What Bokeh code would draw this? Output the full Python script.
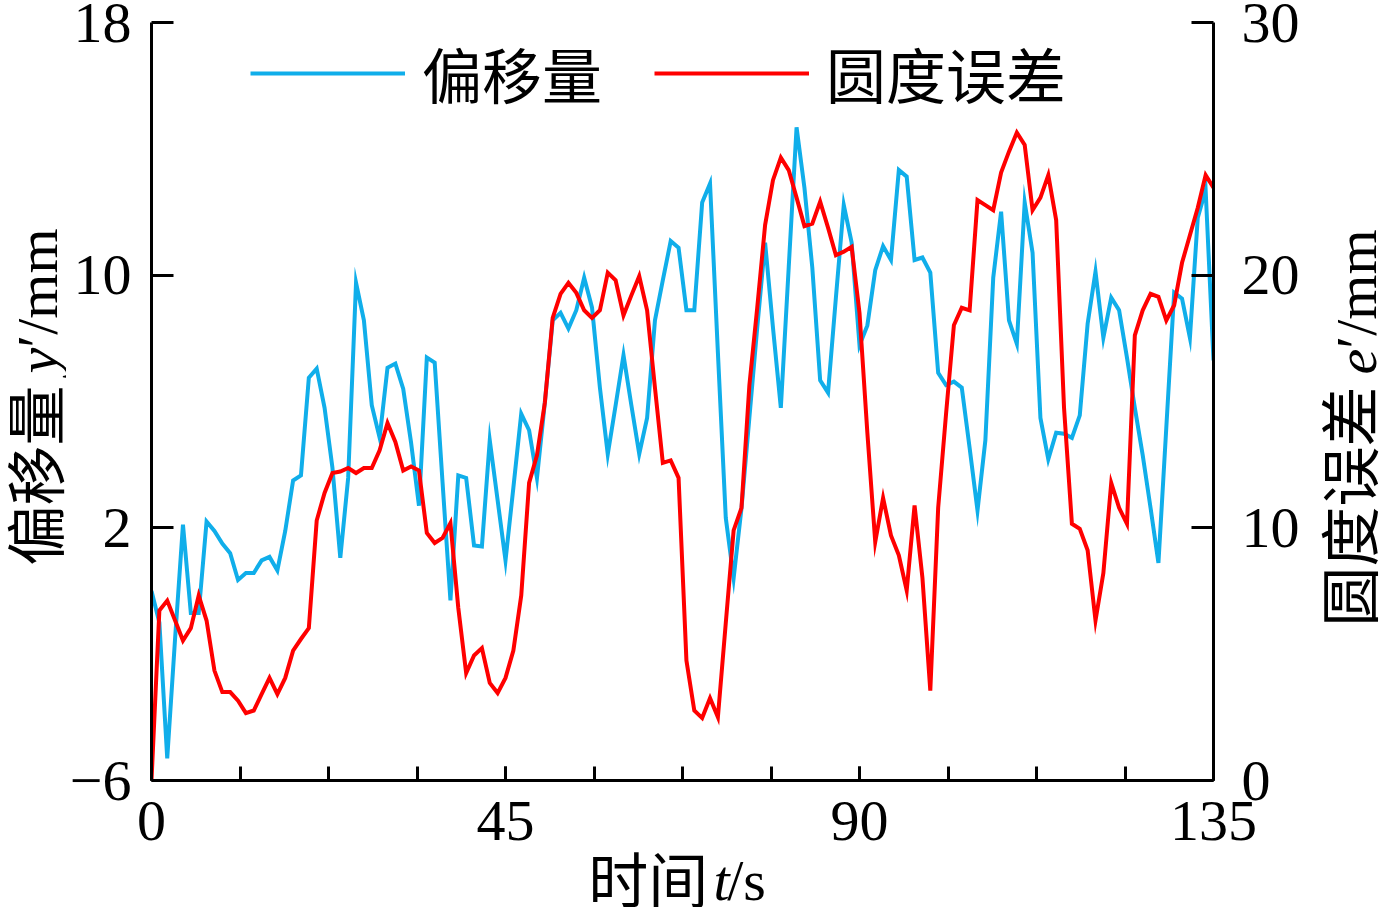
import math
from bokeh.plotting import figure
from bokeh.layouts import row, column
from bokeh.models import (Range1d, LinearAxis, FixedTicker, Legend,
                          LegendItem)
from bokeh.core.properties import value
from bokeh.embed import file_html
from bokeh.resources import INLINE

# ---------------- data ----------------
time_s = list(range(0, 136))

offset_y = [
    0.0, -1.0, -5.3, -1.5, 2.1, -0.7, -0.7, 2.2, 1.9, 1.5,
    1.2, 0.35, 0.57, 0.57, 0.97, 1.08, 0.65, 1.9, 3.5, 3.66,
    6.75, 7.04, 5.8, 3.9, 1.05, 3.58, 9.76, 8.57, 5.88, 4.85,
    7.07, 7.2, 6.4, 4.69, 2.7, 7.39, 7.23, 3.43, -0.3, 3.66,
    3.58, 1.44, 1.41, 4.77, 2.87, 0.97, 3.27, 5.61, 5.09, 3.58,
    5.96, 8.57, 8.81, 8.31, 8.89, 9.92, 8.97, 6.44, 4.33, 5.88,
    7.47, 5.88, 4.34, 5.48, 8.57, 9.84, 11.08, 10.87, 8.89, 8.89,
    12.3, 12.9, 7.55, 2.32, 0.41, 2.63, 5.48, 8.34, 11.03, 8.34,
    5.8, 10.24, 14.68, 12.77, 10.24, 6.67, 6.28, 9.29, 12.22, 11.03,
    7.78, 8.41, 10.16, 10.92, 10.48, 13.33, 13.12, 10.48, 10.56, 10.08,
    6.91, 6.52, 6.63, 6.44, 4.53, 2.55, 4.77, 9.92, 12.01, 8.57,
    7.83, 12.3, 10.71, 5.48, 4.17, 5.01, 4.98, 4.85, 5.56, 8.46,
    10.11, 8.02, 9.29, 8.89, 7.39, 5.8, 4.3, 2.63, 0.89, 5.17,
    9.45, 9.26, 8.02, 11.82, 12.7, 7.3,
]

roundness_e = [
    0.0, 6.73, 7.12, 6.33, 5.54, 6.03, 7.32, 6.33, 4.35, 3.5,
    3.5, 3.16, 2.67, 2.77, 3.42, 4.06, 3.42, 4.06, 5.14, 5.6,
    6.03, 10.29, 11.38, 12.17, 12.23, 12.37, 12.17, 12.37, 12.37, 13.07,
    14.15, 13.4, 12.27, 12.43, 12.27, 9.8, 9.4, 9.6, 10.19, 6.83,
    4.25, 4.95, 5.24, 3.86, 3.46, 4.06, 5.14, 7.32, 11.78, 12.87,
    14.95, 18.31, 19.26, 19.7, 19.3, 18.61, 18.31, 18.61, 20.1, 19.8,
    18.41, 19.2, 19.96, 18.61, 15.54, 12.57, 12.67, 11.98, 4.75, 2.77,
    2.47, 3.26, 2.51, 6.23, 9.9, 10.79, 15.64, 18.71, 21.98, 23.76,
    24.65, 24.16, 23.07, 21.94, 22.04, 22.91, 21.88, 20.79, 20.93, 21.12,
    18.51, 13.76, 9.44, 11.18, 9.7, 8.91, 7.52, 10.89, 8.02, 3.56,
    10.79, 14.5, 18.02, 18.71, 18.61, 22.97, 22.77, 22.57, 24.06, 24.89,
    25.64, 25.15, 22.57, 23.07, 23.96, 22.18, 14.75, 10.16, 9.96, 9.11,
    6.33, 8.21, 11.78, 10.79, 10.16, 17.62, 18.61, 19.26, 19.14, 18.21,
    18.81, 20.49, 21.58, 22.67, 23.96, 23.46,
]

x_ticks = [0, 45, 90, 135]
x_minor_ticks = [0, 11.25, 22.5, 33.75, 45, 56.25, 67.5, 78.75, 90,
                 101.25, 112.5, 123.75, 135]
y_ticks = [-6, 2, 10, 18]
e_ticks = [0, 10, 20, 30]

series_names = ["偏移量", "圆度误差"]
# axis titles split into (CJK part, italic symbol, upright rest)
x_title = ["时间", "t", "/s"]
y_title = ["偏移量", "y", "′/mm"]
e_title = ["圆度误差", "e", "′/mm"]

# ---------------- styling ----------------
BLUE = "#10AEEA"
RED = "#FF0000"
SERIF = "Liberation Serif"
CJK = "Noto Sans CJK SC"
TICK_FS = "58px"
CJK_FS = "60px"
LAT_FS = "58px"

LEFT_W, MAIN_W, RIGHT_W = 66, 1244, 70
MAIN_H, BOTTOM_H = 850, 57
TOTAL_H = MAIN_H + BOTTOM_H

p = figure(width=MAIN_W, height=MAIN_H, frame_width=1062, frame_height=758,
           min_border_left=84, min_border_right=98,
           min_border_top=22, min_border_bottom=70,
           x_range=Range1d(0, 135), y_range=Range1d(-6, 18),
           x_axis_location=None, y_axis_location=None,
           output_backend="svg", toolbar_location=None)
p.extra_y_ranges = {"e": Range1d(0, 30)}
p.outline_line_color = None
p.xgrid.visible = False
p.ygrid.visible = False
p.background_fill_color = "white"
p.border_fill_color = "white"


def style_axis(ax, tick_len, standoff):
    ax.axis_line_width = 3
    ax.axis_line_color = "black"
    ax.major_tick_line_width = 3
    ax.major_tick_line_color = "black"
    ax.major_tick_in = tick_len
    ax.major_tick_out = 0
    ax.minor_tick_line_width = 3
    ax.minor_tick_line_color = "black"
    ax.minor_tick_in = tick_len
    ax.minor_tick_out = 0
    ax.major_label_text_font = SERIF
    ax.major_label_text_font_size = TICK_FS
    ax.major_label_text_color = "black"
    ax.major_label_standoff = standoff


xaxis = LinearAxis(ticker=FixedTicker(ticks=x_ticks, minor_ticks=x_minor_ticks))
style_axis(xaxis, 14, 21)
p.add_layout(xaxis, "below")

yaxis = LinearAxis(ticker=FixedTicker(ticks=y_ticks))
style_axis(yaxis, 22, 20)
yaxis.minor_tick_line_color = None
yaxis.major_label_overrides = {-6: "−6"}
p.add_layout(yaxis, "left")

eaxis = LinearAxis(y_range_name="e", ticker=FixedTicker(ticks=e_ticks))
style_axis(eaxis, 22, 28)
eaxis.minor_tick_line_color = None
p.add_layout(eaxis, "right")

r_blue = p.line(time_s, offset_y, line_color=BLUE, line_width=4,
                line_join="miter")
r_red = p.line(time_s, roundness_e, y_range_name="e", line_color=RED,
               line_width=4, line_join="miter")

legend = Legend(items=[LegendItem(label=series_names[0], renderers=[r_blue]),
                       LegendItem(label=series_names[1], renderers=[r_red])],
                orientation="horizontal", location=(99, 664),
                glyph_width=155, glyph_height=60, label_standoff=17,
                label_height=60, spacing=52, padding=0, margin=0,
                label_text_font=CJK, label_text_font_size="60px",
                label_text_color="black",
                border_line_color=None, background_fill_alpha=0)
p.add_layout(legend)


# ---------------- title strips (pixel coordinates) ----------------
def strip(w, h):
    f = figure(width=w, height=h, x_range=Range1d(0, w), y_range=Range1d(0, h),
               min_border=0, x_axis_location=None, y_axis_location=None,
               output_backend="svg", toolbar_location=None)
    f.outline_line_color = None
    f.xgrid.visible = False
    f.ygrid.visible = False
    f.background_fill_color = "white"
    f.border_fill_color = "white"
    return f


def put(f, txt, x, y, font, size, style="normal", angle=0.0):
    f.text(x=[x], y=[y], text=[txt], angle=angle,
           text_font=value(font), text_font_size=value(size),
           text_font_style=value(style), text_color="black",
           text_align=value("left"), text_baseline=value("middle"))


rot = math.pi / 2

left_fig = strip(LEFT_W, TOTAL_H)
put(left_fig, y_title[0], 32, 342, CJK, CJK_FS, angle=rot)
put(left_fig, y_title[1], 37, 534, SERIF, LAT_FS, "italic", angle=rot)
put(left_fig, y_title[2], 37, 560, SERIF, LAT_FS, angle=rot)

right_fig = strip(RIGHT_W, TOTAL_H)
put(right_fig, e_title[0], 35, 281, CJK, CJK_FS, angle=rot)
put(right_fig, e_title[1], 45, 533, SERIF, LAT_FS, "italic", angle=rot)
put(right_fig, e_title[2], 45, 559, SERIF, LAT_FS, angle=rot)

bottom_fig = strip(MAIN_W, BOTTOM_H)
put(bottom_fig, x_title[0], 512, 31, CJK, CJK_FS)
put(bottom_fig, x_title[1], 659, 27, SERIF, LAT_FS, "italic")
put(bottom_fig, x_title[2], 675, 27, SERIF, LAT_FS)

layout = row(left_fig, column(p, bottom_fig, spacing=0), right_fig, spacing=0)

open("out.html", "w").write(file_html(layout, INLINE))
